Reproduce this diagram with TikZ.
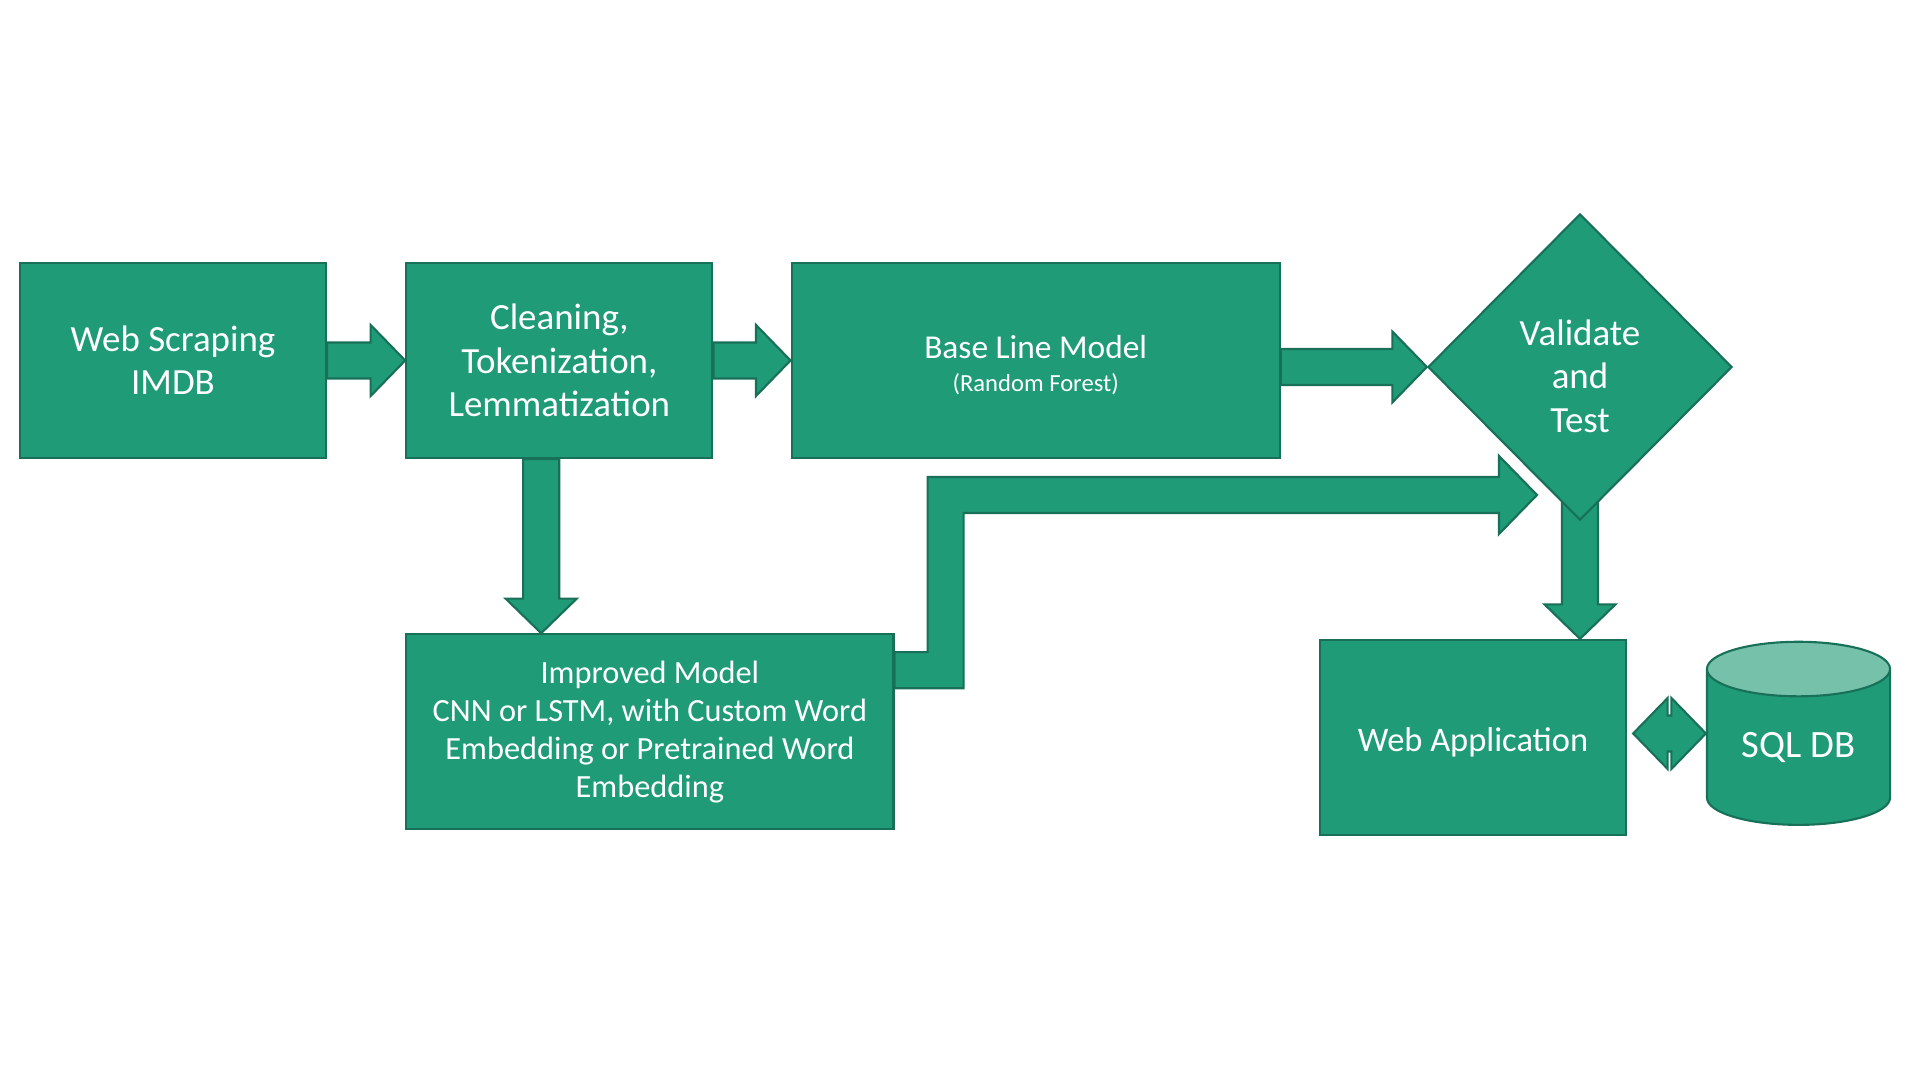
\documentclass[tikz,border=0pt]{standalone}
\usepackage{fontspec}
\setmainfont{Carlito}
\usetikzlibrary{positioning,shapes.geometric,calc,backgrounds}
\definecolor{stepgreen}{RGB}{31,155,120}
\definecolor{edgegreen}{RGB}{24,112,88}
\definecolor{lidgreen}{RGB}{117,193,170}
\tikzset{
  block/.style={rectangle, draw=edgegreen, line width=0.6pt, fill=stepgreen, text=white,
                minimum width=3.06cm, minimum height=1.95cm, align=center, inner sep=0pt},
  decision/.style={diamond, draw=edgegreen, line width=0.6pt, fill=stepgreen, text=white,
                minimum width=3.04cm, minimum height=3.06cm, align=center, inner sep=0pt},
  database/.style={cylinder, shape border rotate=90, aspect=0.48, draw=edgegreen, line width=0.6pt,
                cylinder uses custom fill, cylinder body fill=stepgreen, cylinder end fill=lidgreen,
                text=white, minimum width=1.83cm, minimum height=1.83cm, inner sep=0pt},
  fatarrow/.style={draw=edgegreen, line width=0.6pt, fill=stepgreen},
  bigtext/.style={font=\fontsize{10.5}{12.3}\selectfont},
}
\newcommand{\arrshaft}{0.18cm}
\newcommand{\arrhead}{0.355cm}
\newcommand{\arrlen}{0.345cm}
% fat arrow pointing right: start, tip
\newcommand{\rightfat}[2]{%
  \path[fatarrow] let \p1=(#1), \p2=(#2) in
    (\x1,\y2+\arrshaft) -- (\x2-\arrlen,\y2+\arrshaft) -- (\x2-\arrlen,\y2+\arrhead)
    -- (\x2,\y2) -- (\x2-\arrlen,\y2-\arrhead) -- (\x2-\arrlen,\y2-\arrshaft)
    -- (\x1,\y2-\arrshaft) -- cycle;}
% fat arrow pointing down: start, tip
\newcommand{\downfat}[2]{%
  \path[fatarrow] let \p1=(#1), \p2=(#2) in
    (\x2-\arrshaft,\y1) -- (\x2-\arrshaft,\y2+\arrlen) -- (\x2-\arrhead,\y2+\arrlen)
    -- (\x2,\y2) -- (\x2+\arrhead,\y2+\arrlen) -- (\x2+\arrshaft,\y2+\arrlen)
    -- (\x2+\arrshaft,\y1) -- cycle;}
% fat arrow with two heads: left tip, right tip
\newcommand{\bothfat}[2]{%
  \path[fatarrow] let \p1=(#1), \p2=(#2) in
    (\x1,\y1) -- (\x1+\arrlen,\y1+\arrhead) -- (\x1+\arrlen,\y1+\arrshaft)
    -- (\x2-\arrlen,\y1+\arrshaft) -- (\x2-\arrlen,\y1+\arrhead) -- (\x2,\y1)
    -- (\x2-\arrlen,\y1-\arrhead) -- (\x2-\arrlen,\y1-\arrshaft)
    -- (\x1+\arrlen,\y1-\arrshaft) -- (\x1+\arrlen,\y1-\arrhead) -- cycle;}

\begin{document}
\begin{tikzpicture}[x=0.01cm, y=-0.01cm]
\useasboundingbox (0,0) rectangle (1920,1080);
\node[block, bigtext] (web) at (173,360.5) {Web Scraping\\IMDB};
\node[block, bigtext, right=0.78cm of web] (clean) {Cleaning,\\Tokenization,\\Lemmatization};
\node[block, minimum width=4.88cm, right=0.77cm of clean, font=\fontsize{9.5}{10.5}\selectfont]
  (base) {\rule{0pt}{0.32cm}Base Line Model\\[-1pt]{\fontsize{7}{8}\selectfont (Random Forest)}};
\node[decision, bigtext] (val) at (1580,367) {\rule{0pt}{0.44cm}Validate\\and\\Test};
\node[block, minimum width=4.87cm, below=1.74cm of clean.south west, anchor=north west,
  font=\fontsize{9.2}{10.8}\selectfont]
  (improved) {Improved Model\\CNN or LSTM, with Custom Word\\Embedding or Pretrained Word\\Embedding};
\node[block, font=\fontsize{9.8}{11}\selectfont] (webapp) at (1473,737.5) {\rule{0pt}{0.33cm}Web Application};
\node[database, font=\fontsize{11}{12}\selectfont] (sqldb) at (1798.5,747.5) {SQL DB};
\coordinate (valin) at ($(val.center)+(-43,128)$);

\begin{scope}[on background layer]
  \fill[white] (0,0) rectangle (1920,1080);
  \rightfat{web.east}{clean.west}
  \rightfat{clean.east}{base.west}
  \rightfat{base.east |- val.west}{val.west}
  \downfat{clean.south}{$(improved.north west)+(136,0)$}
  \downfat{val.center}{val.south |- webapp.north}
  \bothfat{$(webapp.east)+(6,-4)$}{sqldb.west |- 0,733}
  % bent arrow from the improved model up to the decision
  \path[fatarrow] let \p1=($(improved.north east)+(0,37)$), \p2=(valin),
      \p3=($(improved.north east)+(51,37)$) in
    (\x1,\y1+\arrshaft) -- (\x3-\arrshaft,\y1+\arrshaft) -- (\x3-\arrshaft,\y2+\arrshaft)
    -- (\x2-0.38cm,\y2+\arrshaft) -- (\x2-0.38cm,\y2+0.39cm) -- (\x2,\y2)
    -- (\x2-0.38cm,\y2-0.39cm) -- (\x2-0.38cm,\y2-\arrshaft) -- (\x3+\arrshaft,\y2-\arrshaft)
    -- (\x3+\arrshaft,\y1-\arrshaft) -- (\x1,\y1-\arrshaft) -- cycle;
\end{scope}
\end{tikzpicture}
\end{document}
